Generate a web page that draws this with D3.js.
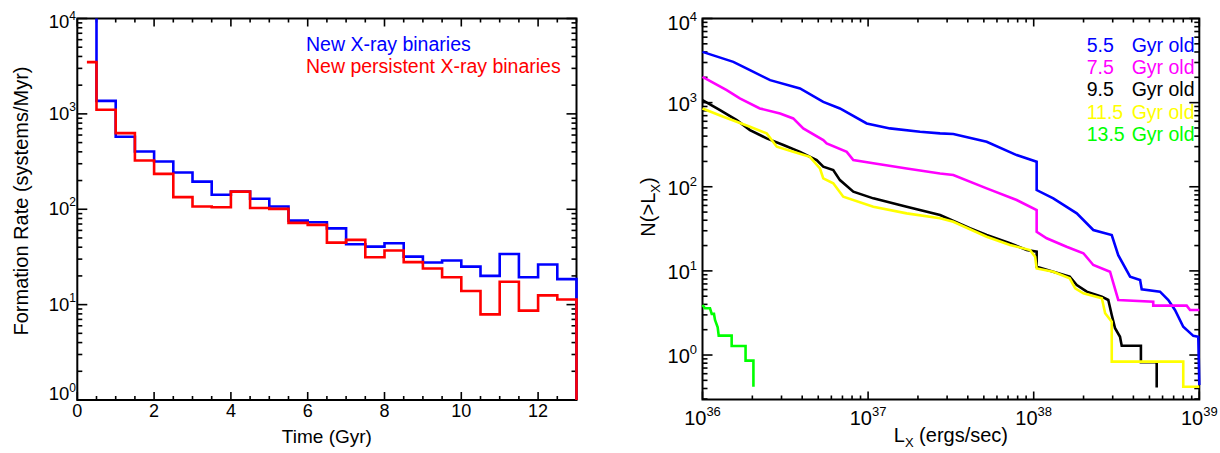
<!DOCTYPE html>
<html><head><meta charset="utf-8">
<script src="https://cdn.jsdelivr.net/npm/d3@7"></script>
<style>
html,body{margin:0;padding:0;background:#fff;}
text{font-family:"Liberation Sans",Arial,Helvetica,sans-serif;}
</style></head>
<body>
<svg id="c" width="1220" height="453"></svg>
<script>
// ---------- Left panel data: formation rate histograms (0.5 Gyr bins) ----------
const binStart = [0.25,0.5,1.0,1.5,2.0,2.5,3.0,3.5,4.0,4.5,5.0,5.5,6.0,6.5,7.0,7.5,8.0,8.5,9.0,9.5,10.0,10.5,11.0,11.5,12.0,12.5];
const binEnd = 13;
const newXRB = [15000,1370,575,403,317,243,195,142,153,129,107,76,73,63,43,40.6,44,31.9,27.6,29,25,20,34,19.4,26.3,18.5];
const newPersistentXRB = [3490,1104,629,324,235,134,107,105,153,103,101,72,68.6,44.7,47.7,31.4,36.9,27.9,23.9,19.4,13.9,7.9,17.4,8.65,12.5,11.3];
const timeTicks = [0,2,4,6,8,10,12];
const rateTicks = [1,10,100,1000,10000];

// ---------- Right panel data: cumulative luminosity functions N(>Lx) ----------
const L_UNIT = 1e36; // Lx values below are in units of 1e36 erg/s
const lx55 = [1.0,1.535,1.935,2.56,3.88,5.36,6.76,9.81,13.55,20.6,27.2,32.7,52.0,78.9,104.2,104.2,131.3,182,229,296,324,382,439,449,579,650,713,800,920,986,1000];
const n55  = [4010,3050,2430,1850,1475,1022,853,566,494,450,431,423,342,238,198,91.4,72.8,48.3,30.6,26.7,15.4,8.53,7.8,6.04,5.66,4.51,3.43,2.17,1.69,1.65,0.44];
const lx75 = [1.0,1.40,1.68,2.22,2.94,3.53,4.06,5.36,5.62,7.43,8.14,10.75,17.1,27.2,32.7,52.0,78.9,104.2,104.2,119.8,158,199.5,229,289,303,324,527,527,839,879,1000];
const n75  = [2025,1407,1122,853,744,649,494,359,328,260,208,190,165,144,138,95.7,69.5,52.9,29.2,24.4,19.4,16.2,11.75,9.78,7.12,4.51,4.31,3.86,3.86,3.43,3.43];
const lx95 = [1.0,1.276,1.61,1.935,2.44,3.08,3.88,4.89,5.36,6.16,6.76,8.14,10.75,17.1,27.2,41.2,52,71.9,90.7,104.2,104.2,131.3,165,182,209,258,282,296,310,332,340,444,444,553,553];
const n95  = [1071,815,620,471,376,313,260,208,173,158,120,87.3,72.8,57.9,46.1,32.1,26.7,21.3,17.7,16.9,11.2,9.78,8.53,6.80,5.66,4.94,4.51,2.99,2.08,1.65,1.29,1.29,0.82,0.82,0.41];
const lx115 = [1.0,1.336,1.935,2.44,2.81,3.53,4.45,5.12,5.36,6.16,7.08,10.75,17.1,27.2,32.7,52,71.9,95,102,104.2,131.3,165,178,199.5,258,270,296,296,800,800,1000];
const n115  = [853,678,516,431,299,260,227,165,126,110,76.1,57.9,48.3,42.2,38.4,25.5,20.3,17.7,14.7,10.7,9.78,8.17,6.21,5.42,4.73,3.14,2.49,0.835,0.835,0.42,0.42];
const lx135 = [1.0,1.035,1.11,1.137,1.173,1.19,1.235,1.253,1.50,1.50,1.82,1.82,2.03,2.03];
const n135  = [3.94,3.59,3.59,3.08,3.08,2.61,2.14,1.70,1.70,1.28,1.28,0.858,0.858,0.42];
const lxTicks = [1e36,1e37,1e38,1e39];
const nTicks = [1,10,100,1000,10000];
const ageLabels = ["5.5","7.5","9.5","11.5","13.5"];

const svg = d3.select("#c");
svg.append("rect").attr("width",1220).attr("height",453).attr("fill","#fff");

function frame(g, x0, x1, y0, y1){
  g.append("rect").attr("x",x0).attr("y",y0).attr("width",x1-x0).attr("height",y1-y0)
   .attr("fill","none").attr("stroke","#000").attr("stroke-width",2);
}
function tick(g,x1,y1,x2,y2){
  g.append("line").attr("x1",x1).attr("y1",y1).attr("x2",x2).attr("y2",y2)
   .attr("stroke","#000").attr("stroke-width",1.6);
}
function logMinor(domain){
  const out=[];
  const lo=Math.floor(Math.log10(domain[0])), hi=Math.ceil(Math.log10(domain[1]));
  for(let e=lo;e<hi;e++){ for(let m=2;m<=9;m++){ const v=m*Math.pow(10,e); if(v>=domain[0]&&v<=domain[1]) out.push(v);} }
  return out;
}
function powLabel(g, x, y, exp, anchor, size, supSize){
  const t=g.append("text").attr("x",x).attr("y",y).attr("text-anchor",anchor)
    .attr("font-size",size).attr("fill","#000");
  t.append("tspan").text("10");
  t.append("tspan").attr("dy",-size*0.45).attr("font-size",supSize).text(exp);
  return t;
}

// ================= LEFT PANEL =================
const L = {x0:77.3, x1:576.5, y0:18.5, y1:400};
const xT = d3.scaleLinear().domain([0,13]).range([L.x0,L.x1]);
const yR = d3.scaleLog().domain([1,10000]).range([L.y1,L.y0]);
const gL = svg.append("g");
svg.append("clipPath").attr("id","clipL").append("rect")
  .attr("x",L.x0-2).attr("y",L.y0).attr("width",L.x1-L.x0+4).attr("height",L.y1-L.y0);

// axes first
for(let v=0; v<=13.001; v+=0.5){
  const major = timeTicks.includes(v);
  const len = major?8:4;
  tick(gL, xT(v), L.y1, xT(v), L.y1-len);
  tick(gL, xT(v), L.y0, xT(v), L.y0+len);
}
rateTicks.forEach(v=>{ tick(gL,L.x0,yR(v),L.x0+10,yR(v)); tick(gL,L.x1,yR(v),L.x1-10,yR(v)); });
logMinor([1,10000]).forEach(v=>{ tick(gL,L.x0,yR(v),L.x0+5,yR(v)); tick(gL,L.x1,yR(v),L.x1-5,yR(v)); });
frame(gL, L.x0, L.x1, L.y0, L.y1);

function histPts(vals){
  const pts = binStart.map((s,i)=>[s, vals[i]]);
  pts.push([binEnd, 1]);
  return pts;
}
const stepLine = d3.line().x(d=>xT(d[0])).y(d=>yR(d[1])).curve(d3.curveStepAfter);
gL.append("path").attr("d",stepLine(histPts(newXRB))).attr("clip-path","url(#clipL)")
  .attr("fill","none").attr("stroke","#0000ff").attr("stroke-width",2.6);
gL.append("path").attr("d",stepLine(histPts(newPersistentXRB))).attr("clip-path","url(#clipL)")
  .attr("fill","none").attr("stroke","#ff0000").attr("stroke-width",2.6);

timeTicks.forEach(v=>{
  gL.append("text").attr("x",xT(v)).attr("y",417).attr("text-anchor","middle")
    .attr("font-size",18).text(v);
});
const leftLabOff = {0:0, 1:6, 2:5.5, 3:5.8, 4:9.6};
rateTicks.forEach(v=>{
  const e = Math.round(Math.log10(v));
  powLabel(gL, 76, yR(v)+leftLabOff[e], e, "end", 18.5, 12);
});
gL.append("text").attr("x",xT(6.5)).attr("y",443).attr("text-anchor","middle")
  .attr("font-size",19).text("Time (Gyr)");
gL.append("text").attr("transform","translate(28,201) rotate(-90)").attr("text-anchor","middle")
  .attr("font-size",20).text("Formation Rate (systems/Myr)");
gL.append("text").attr("x",306).attr("y",50.6).attr("font-size",19.5).attr("fill","#0000ff").text("New X-ray binaries");
gL.append("text").attr("x",306).attr("y",73.3).attr("font-size",19.5).attr("fill","#ff0000").text("New persistent X-ray binaries");

// ================= RIGHT PANEL =================
const R = {x0:702.5, x1:1199.3, y0:18.5, y1:399.5};
const xL = d3.scaleLog().domain([1e36,1e39]).range([R.x0,R.x1]);
const yN = d3.scaleLog().domain([0.296,10000]).range([R.y1,R.y0]);
const gR = svg.append("g");
svg.append("clipPath").attr("id","clipR").append("rect")
  .attr("x",R.x0-2).attr("y",R.y0).attr("width",R.x1-R.x0+4).attr("height",R.y1-R.y0);

lxTicks.forEach(v=>{ tick(gR,xL(v),R.y1,xL(v),R.y1-8); tick(gR,xL(v),R.y0,xL(v),R.y0+8); });
logMinor([1e36,1e39]).forEach(v=>{ tick(gR,xL(v),R.y1,xL(v),R.y1-4); tick(gR,xL(v),R.y0,xL(v),R.y0+4); });
nTicks.forEach(v=>{ tick(gR,R.x0,yN(v),R.x0+10,yN(v)); tick(gR,R.x1,yN(v),R.x1-10,yN(v)); });
logMinor([0.296,10000]).forEach(v=>{ tick(gR,R.x0,yN(v),R.x0+5,yN(v)); tick(gR,R.x1,yN(v),R.x1-5,yN(v)); });
frame(gR, R.x0, R.x1, R.y0, R.y1);

const series = [
  {lx:lx55, n:n55, color:"#0000ff"},
  {lx:lx75, n:n75, color:"#ff00ff"},
  {lx:lx95, n:n95, color:"#000000"},
  {lx:lx115, n:n115, color:"#ffff00"},
  {lx:lx135, n:n135, color:"#00ff00"}
];
const cumLine = d3.line().x(d=>xL(d[0]*L_UNIT)).y(d=>yN(d[1]));
series.forEach(s=>{
  const pts = s.lx.map((v,i)=>[v, s.n[i]]);
  gR.append("path").attr("d",cumLine(pts)).attr("clip-path","url(#clipR)")
    .attr("fill","none").attr("stroke",s.color).attr("stroke-width",2.6)
    .attr("stroke-linejoin","miter");
});

lxTicks.forEach(v=>{
  powLabel(gR, xL(v), 425, Math.round(Math.log10(v)), "middle", 20, 13);
});
nTicks.forEach(v=>{
  const e = Math.round(Math.log10(v));
  powLabel(gR, 697, yN(v)+(e===4?11:8), e, "end", 20, 13);
});
const xt = gR.append("text").attr("x",(R.x0+R.x1)/2).attr("y",442).attr("text-anchor","middle").attr("font-size",20);
xt.append("tspan").text("L");
xt.append("tspan").attr("font-size",13).attr("dy",5).text("X");
xt.append("tspan").attr("dy",-5).text(" (ergs/sec)");
const yt = gR.append("text").attr("transform","translate(655,207) rotate(-90)").attr("text-anchor","middle").attr("font-size",20);
yt.append("tspan").text("N(>L");
yt.append("tspan").attr("font-size",13).attr("dy",5).text("X");
yt.append("tspan").attr("dy",-5).text(")");

const legY = [51.6,73.8,96.4,118.8,141.4];
series.forEach((s,i)=>{
  const t = gR.append("text").attr("y",legY[i]).attr("font-size",19.5).attr("fill",s.color);
  t.append("tspan").attr("x",1086.7).text(ageLabels[i]);
  t.append("tspan").attr("x",1131.7).text("Gyr old");
});
</script>
</body></html>
